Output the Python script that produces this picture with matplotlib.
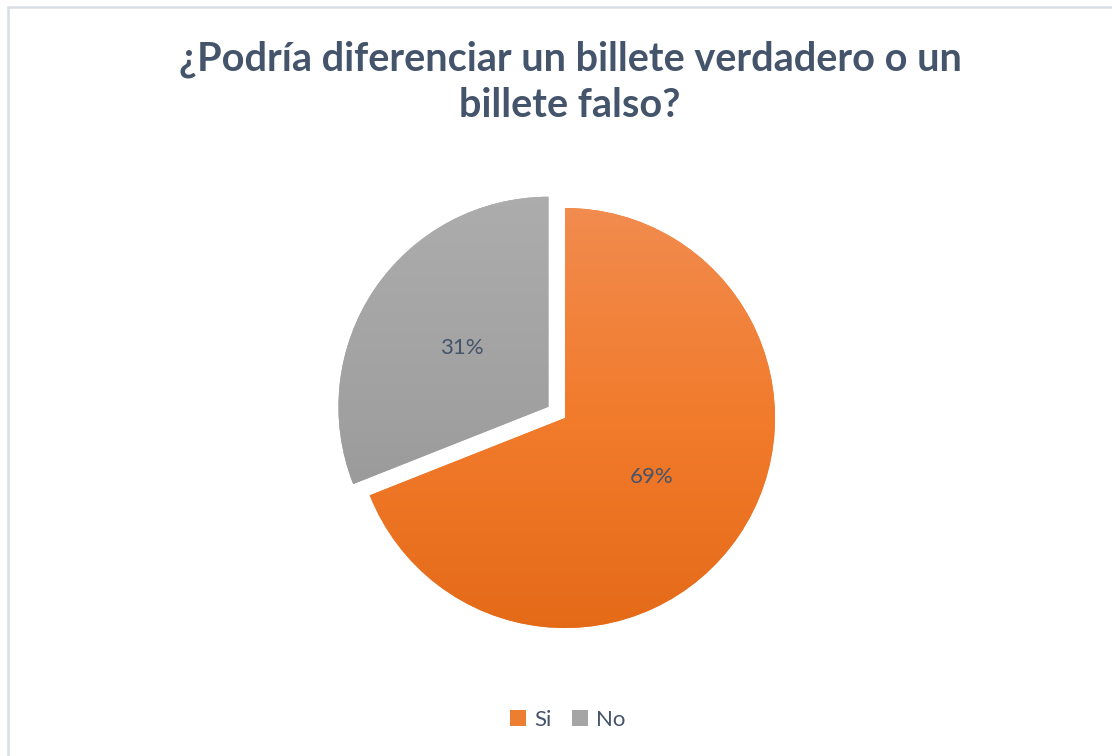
import numpy as np
import matplotlib
matplotlib.use("Agg")
import matplotlib.pyplot as plt
from matplotlib.patches import Rectangle, Patch
from matplotlib.colors import LinearSegmentedColormap

labels = ["Si", "No"]
values = [69, 31]
# gradient stops per slice, bottom -> top
slice_gradients = [["#E36916", "#F27B2C", "#F18D52"],
                   ["#8E8E8E", "#A0A0A0", "#ADADAD"]]
legend_colors = ["#ED7D31", "#A5A5A5"]
title = "¿Podría diferenciar un billete verdadero o un\nbillete falso?"

W, H = 1112, 756
fig = plt.figure(figsize=(W / 100, H / 100), dpi=100)
ax = fig.add_axes([0, 0, 1, 1])

cx, cy, r = 565, H - 418, 210
# explode is in data units here (pixels)
wedges, texts, autotexts = ax.pie(
    values, startangle=90, counterclock=False, explode=[0, 20],
    center=(cx, cy), radius=r, colors=legend_colors,
    autopct="%1.0f%%", pctdistance=0.5,
    textprops=dict(color="#44546A", fontsize=16, family="Lato"),
    wedgeprops=dict(linewidth=0))

# vertical gradient fill for each slice
grad = np.linspace(0, 1, 256).reshape(-1, 1)
for w, stops in zip(wedges, slice_gradients):
    cmap = LinearSegmentedColormap.from_list("g", stops)
    im = ax.imshow(grad, cmap=cmap, origin="lower", aspect="auto",
                   extent=(cx - r - 40, cx + r + 40, cy - r - 20, cy + r + 20),
                   zorder=1.5)
    im.set_clip_path(w)
for t in autotexts:
    t.set_zorder(3)
ax.set_xlim(0, W)
ax.set_ylim(0, H)
ax.set_aspect("equal")
ax.axis("off")

fig.text(570 / W, 1 - 82 / H, title, ha="center", va="center", fontsize=28.5,
         fontweight="bold", color="#44546A", family="Lato", linespacing=1.3)

handles = [Patch(facecolor=c, edgecolor="none", label=l) for c, l in zip(legend_colors, labels)]
fig.legend(handles=handles, loc="center", bbox_to_anchor=(568 / W, 1 - 720 / H), ncol=2,
           frameon=False, handlelength=0.7, handleheight=0.7, handletextpad=0.4,
           columnspacing=0.9, prop=dict(family="Lato", size=16),
           labelcolor="#44546A")

fig.patches.append(Rectangle((8 / W, -0.1), 1.2, 1 - 7.5 / H + 0.1,
                             transform=fig.transFigure, fill=False,
                             edgecolor="#D9DEE4", linewidth=1.8))

fig.savefig("out.png", dpi=100, facecolor="white")
